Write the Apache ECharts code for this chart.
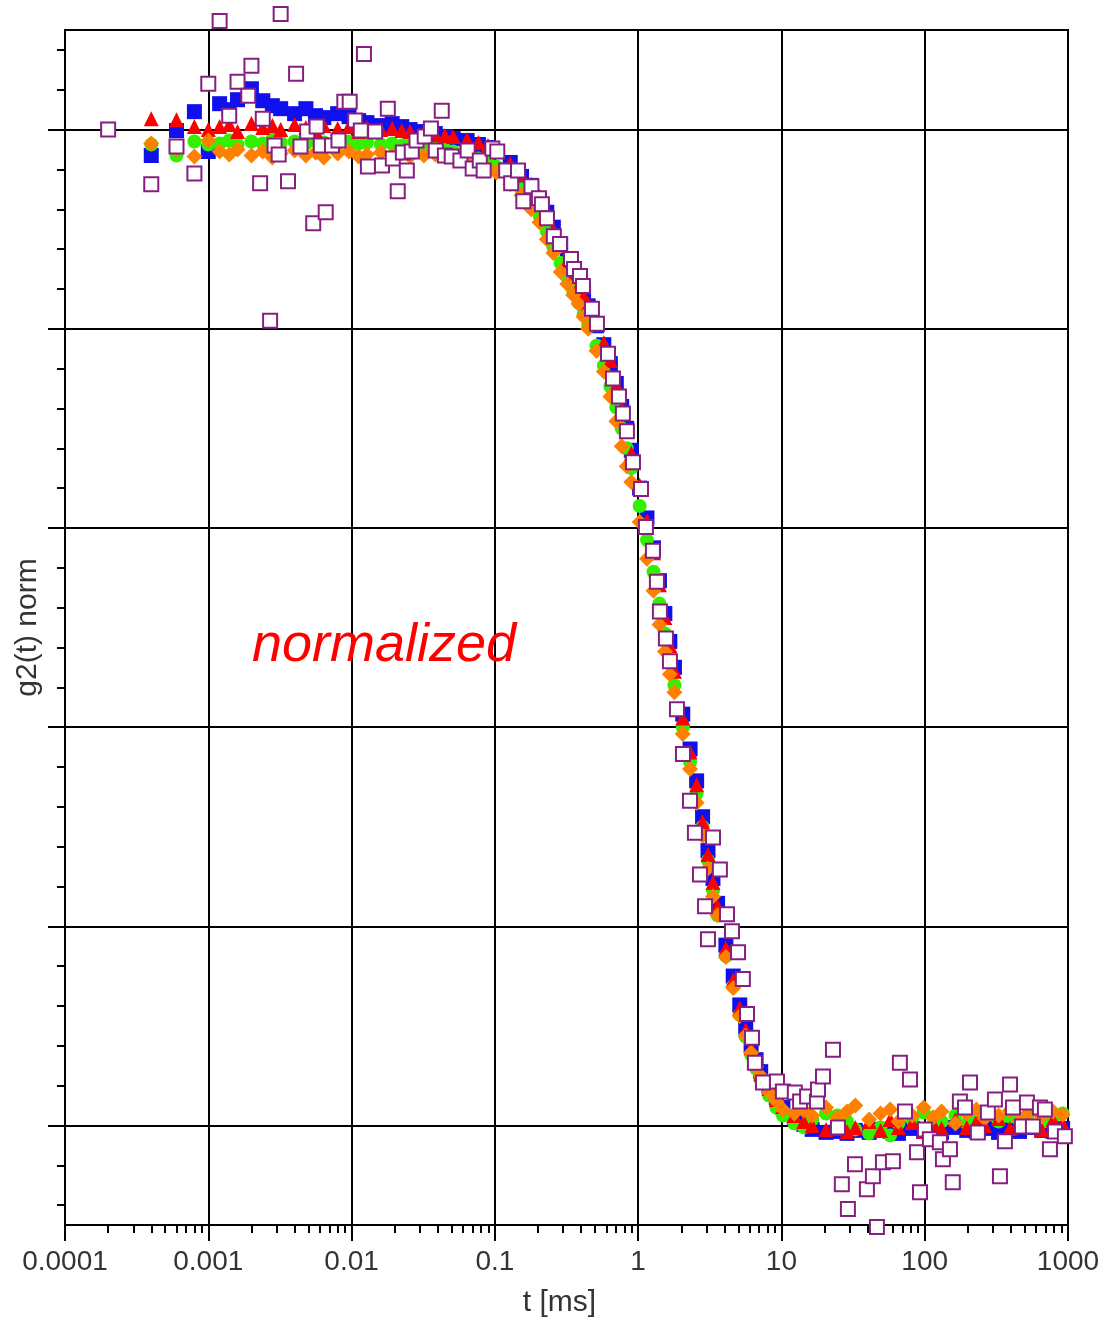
<!DOCTYPE html>
<html>
<head>
<meta charset="utf-8">
<script src="https://cdn.jsdelivr.net/npm/echarts@6/dist/echarts.min.js"></script>
<style>
html,body{margin:0;padding:0;background:#fff;}
#chart{width:1109px;height:1324px;}
</style>
</head>
<body>
<div id="chart"></div>
<script>
// ---- data (t in ms, g2(t) normalized) ----
const lagTimes = [
  0.0004, 0.0006, 0.0008, 0.001, 0.0012, 0.0014, 0.0016, 0.002, 0.0024, 0.0028,
  0.0032, 0.004, 0.0048, 0.0056, 0.0064, 0.008, 0.0096, 0.0112, 0.0128, 0.016,
  0.0192, 0.0224, 0.0256, 0.032, 0.0384, 0.0448, 0.0512, 0.064, 0.0768, 0.0896,
  0.1024, 0.128, 0.1536, 0.1792, 0.2048,
  0.2304, 0.256, 0.288, 0.32, 0.352, 0.384, 0.416, 0.448, 0.512, 0.576,
  0.64, 0.704, 0.768, 0.832, 0.896, 1.024, 1.152, 1.28, 1.408, 1.536,
  1.664, 1.792, 2.048, 2.304, 2.56, 2.816, 3.072, 3.328, 3.584, 4.096,
  4.608, 5.12, 5.632, 6.144, 6.656, 7.168, 8.192, 9.216, 10.24,
  12.288, 14.336, 16.384, 20.48, 24.576, 28.672, 32.768, 40.96, 49.152, 57.344,
  65.536, 81.92, 98.304, 114.688, 131.072, 163.84, 196.608, 229.376, 262.144, 327.68,
  393.216, 458.752, 524.288, 655.36, 786.432, 917.504
];
const blueValues = [
  0.974, 0.999, 1.018, 0.978, 1.026, 1.020, 1.030, 1.041, 1.029, 1.024,
  1.021, 1.016, 1.021, 1.014, 1.012, 1.016, 1.013, 1.009, 1.007, 1.004,
  1.006, 1.003, 1.000, 0.998, 0.996, 0.993, 0.991, 0.989, 0.985, 0.982,
  0.978, 0.967, 0.953, 0.944, 0.930,
  0.917, 0.902, 0.885, 0.869, 0.856, 0.846, 0.835, 0.823, 0.803, 0.784,
  0.765, 0.745, 0.722, 0.700, 0.678, 0.640, 0.610, 0.580, 0.547, 0.514,
  0.486, 0.460, 0.413, 0.378, 0.346, 0.310, 0.276, 0.248, 0.223, 0.181,
  0.150, 0.121, 0.099, 0.080, 0.066, 0.054, 0.039, 0.028, 0.018,
  0.008, 0.001, -0.004, -0.007, -0.006, -0.008, -0.005, -0.007, -0.004, -0.006,
  -0.008, -0.003, -0.006, -0.004, -0.007, -0.002, -0.005, -0.006, -0.003, -0.007,
  -0.004, -0.006, -0.002, -0.005, -0.006, -0.003
];
const greenValues = [
  0.985, 0.974, 0.988, 0.985, 0.986, 0.989, 0.985, 0.988, 0.986, 0.990,
  0.987, 0.988, 0.986, 0.989, 0.987, 0.985, 0.988, 0.986, 0.987, 0.985,
  0.986, 0.984, 0.985, 0.983, 0.982, 0.980, 0.978, 0.975, 0.971, 0.967,
  0.963, 0.952, 0.940, 0.928, 0.914,
  0.898, 0.882, 0.866, 0.852, 0.838, 0.826, 0.814, 0.803, 0.783, 0.763,
  0.742, 0.721, 0.700, 0.680, 0.660, 0.622, 0.588, 0.556, 0.524, 0.494,
  0.466, 0.442, 0.400, 0.365, 0.333, 0.300, 0.266, 0.236, 0.211, 0.170,
  0.140, 0.111, 0.089, 0.071, 0.057, 0.046, 0.030, 0.018, 0.010,
  0.002, -0.002, 0.006, 0.012, 0.010, 0.004, -0.004, -0.008, -0.002, -0.010,
  0.002, 0.006, 0.013, 0.008, 0.004, 0.010, 0.002, 0.007, 0.012, 0.004,
  0.009, 0.005, 0.010, 0.003, 0.008, 0.012
];
const redValues = [
  1.011, 1.010, 1.003, 1.000, 1.003, 1.005, 0.998, 1.006, 1.002, 1.004,
  1.000, 1.005, 1.002, 0.999, 1.004, 1.001, 1.003, 0.998, 1.002, 1.000,
  1.001, 0.999, 0.998, 0.997, 0.995, 0.994, 0.993, 0.990, 0.987, 0.984,
  0.980, 0.966, 0.955, 0.945, 0.933,
  0.916, 0.900, 0.884, 0.868, 0.855, 0.843, 0.833, 0.825, 0.806, 0.786,
  0.768, 0.744, 0.720, 0.698, 0.675, 0.643, 0.607, 0.575, 0.543, 0.510,
  0.482, 0.456, 0.409, 0.375, 0.342, 0.305, 0.272, 0.244, 0.220, 0.178,
  0.146, 0.118, 0.096, 0.078, 0.064, 0.052, 0.037, 0.026, 0.019,
  0.010, 0.004, 0.000, -0.004, -0.003, -0.006, -0.002, 0.004, -0.005, 0.006,
  -0.002, 0.003, -0.006, 0.002, -0.003, 0.006, -0.002, 0.004, 0.000, 0.007,
  -0.003, 0.005, 0.001, -0.004, 0.006, 0.002
];
const orangeValues = [
  0.986, 0.980, 0.973, 0.989, 0.978, 0.975, 0.980, 0.974, 0.978, 0.972,
  0.976, 0.979, 0.974, 0.977, 0.972, 0.976, 0.978, 0.973, 0.975, 0.977,
  0.974, 0.976, 0.973, 0.974, 0.975, 0.973, 0.972, 0.968, 0.964, 0.961,
  0.957, 0.945, 0.934, 0.920, 0.907,
  0.890, 0.876, 0.857, 0.845, 0.834, 0.825, 0.812, 0.800, 0.778, 0.757,
  0.732, 0.707, 0.682, 0.662, 0.646, 0.606, 0.569, 0.537, 0.503, 0.476,
  0.453, 0.435, 0.393, 0.358, 0.324, 0.291, 0.258, 0.230, 0.211, 0.169,
  0.138, 0.110, 0.090, 0.073, 0.059, 0.050, 0.033, 0.024, 0.016,
  0.012, 0.015, 0.010, 0.018, 0.008, 0.014, 0.020, 0.006, 0.012, 0.016,
  0.004, 0.010, 0.018, 0.008, 0.014, 0.002, 0.012, 0.016, 0.007, 0.010,
  0.015, 0.005, 0.012, 0.009, 0.014, 0.011
];
const purpleTimes = [
  0.0002, 0.0004, 0.0006, 0.0008, 0.001, 0.0012, 0.0014, 0.0016, 0.0019, 0.0020,
  0.0023, 0.0024, 0.0027, 0.0029, 0.0031, 0.0032, 0.0036, 0.0041, 0.0044, 0.0049,
  0.0054, 0.0057, 0.0061, 0.0066, 0.0073, 0.0081, 0.0089, 0.0097, 0.0106, 0.0116,
  0.0122, 0.0130, 0.0146, 0.0163, 0.0179, 0.0194, 0.0210, 0.0228, 0.0243, 0.0263,
  0.0284, 0.0324, 0.0358, 0.0387, 0.0426, 0.0448, 0.0500, 0.0575, 0.0646, 0.0700,
  0.0785, 0.0835, 0.096, 0.104, 0.120, 0.130, 0.145, 0.158, 0.180, 0.203,
  0.213, 0.231, 0.258, 0.285, 0.340, 0.357, 0.393, 0.412, 0.476, 0.516,
  0.616, 0.667, 0.735, 0.783, 0.835, 0.920, 1.047, 1.133, 1.268, 1.352,
  1.419, 1.563, 1.667, 1.866, 2.055, 2.30, 2.49, 2.70, 2.93, 3.07,
  3.33, 3.72, 4.17, 4.52, 4.98, 5.38, 5.75, 6.23, 6.53, 7.43,
  9.31, 10.24, 12.4, 13.5, 15.1, 17.7, 18.0, 19.5, 22.9, 24.8,
  26.4, 29.1, 32.6, 39.5, 43.5, 46.4, 51.1, 60.0, 67.1, 72.8,
  78.9, 88.3, 92.7, 100.3, 108.7, 127.6, 134, 150, 157, 176,
  191, 207, 235, 276, 309, 335, 363, 394, 413, 477,
  517, 569, 637, 690, 748, 811, 951
];
const purpleValues = [
  1.000, 0.945, 0.983, 0.956, 1.046, 1.109, 1.014, 1.048, 1.034, 1.064,
  0.946, 1.011, 0.808, 0.984, 0.975, 1.116, 0.948, 1.056, 0.983, 0.998,
  0.906, 1.003, 0.984, 0.917, 0.984, 0.989, 1.028, 1.028, 1.009, 0.999,
  1.076, 0.963, 0.998, 0.964, 1.021, 0.971, 0.938, 0.977, 0.959, 0.978,
  0.989, 0.993, 1.001, 0.979, 1.019, 0.974, 0.973, 0.969, 0.979, 0.961,
  0.969, 0.959, 0.981, 0.978, 0.959, 0.946, 0.959, 0.928, 0.943, 0.931,
  0.925, 0.911, 0.893, 0.885, 0.870, 0.860, 0.853, 0.843, 0.820, 0.805,
  0.775, 0.750, 0.732, 0.715, 0.697, 0.666, 0.639, 0.601, 0.577, 0.546,
  0.516, 0.489, 0.466, 0.418, 0.373, 0.326, 0.294, 0.252, 0.220, 0.187,
  0.289, 0.257, 0.212, 0.195, 0.174, 0.147, 0.112, 0.088, 0.063, 0.043,
  0.044, 0.034, 0.033, 0.024, 0.029, 0.024, 0.036, 0.049, 0.076, -0.002,
  -0.059, -0.084, -0.039, -0.064, -0.051, -0.102, -0.037, -0.036, 0.063, 0.014,
  0.046, -0.027, -0.067, -0.004, -0.014, -0.017, -0.034, -0.024, -0.057, 0.024,
  0.018, 0.043, -0.007, 0.013, 0.026, -0.051, -0.016, 0.041, 0.018, -0.001,
  0.023, -0.001, 0.018, 0.016, -0.024, -0.006, -0.011
];
const xTickLabels = ['0.0001', '0.001', '0.01', '0.1', '1', '10', '100', '1000'];
const yRange = [-0.1, 1.1];
// hidden tick labels of the y grid (every 0.02 from -0.1 to 1.1)
const yGridLabels = [];
for (let i = 0; i <= 60; i++) yGridLabels.push((yRange[0] + 0.02 * i).toFixed(2));

const pairs = (xs, ys) => xs.map((x, i) => [x, ys[i]]);

const labelFont = "'Liberation Sans', Arial, sans-serif";

const chart = echarts.init(document.getElementById('chart'), null, {renderer: 'canvas'});
const isMajor = (i) => (i - 5) % 10 === 0;
const isMinor = (i) => i % 2 === 1;

chart.setOption({
  animation: false,
  backgroundColor: '#fff',
  grid: {left: 65, right: 41, top: 30, bottom: 99, show: true, borderColor: '#000', borderWidth: 2, backgroundColor: 'transparent'},
  xAxis: [{
    type: 'log', logBase: 10, min: 0.0001, max: 1000,
    axisLine: {show: true, onZero: false, lineStyle: {color: '#000', width: 2}},
    axisTick: {show: true, length: 16, lineStyle: {color: '#000', width: 2}},
    minorTick: {show: true, splitNumber: 9, length: 8, lineStyle: {color: '#000', width: 2}},
    splitLine: {show: true, lineStyle: {color: '#000', width: 2}},
    axisLabel: {
      show: true, margin: 23, fontSize: 28, fontFamily: labelFont, color: '#333',
      formatter: (v) => xTickLabels[Math.round(Math.log10(v)) + 4]
    },
    name: 't [ms]', nameLocation: 'middle', nameGap: 63,
    nameTextStyle: {fontSize: 30, fontFamily: labelFont, color: '#333', padding: [0, 14, 0, 0]}
  }],
  yAxis: [
    {type: 'value', min: yRange[0], max: yRange[1], show: false},
    {
      type: 'category', data: yGridLabels, boundaryGap: false, position: 'left',
      axisLine: {show: true, lineStyle: {color: '#000', width: 2}},
      axisTick: {show: true, length: 17, interval: (i) => isMajor(i), lineStyle: {color: '#000', width: 2}},
      splitLine: {show: true, interval: (i) => isMajor(i), lineStyle: {color: '#000', width: 2}},
      axisLabel: {show: false},
      name: 'g2(t) norm', nameLocation: 'middle', nameRotate: 90, nameGap: 22,
      nameTextStyle: {fontSize: 30, fontFamily: labelFont, color: '#333'}
    },
    {
      type: 'category', data: yGridLabels, boundaryGap: false, position: 'left',
      axisLine: {show: false},
      axisTick: {show: true, length: 8, interval: (i) => isMinor(i), lineStyle: {color: '#000', width: 2}},
      splitLine: {show: false},
      axisLabel: {show: false}
    }
  ],
  graphic: [{
    type: 'text', left: 252, top: 619, z: 100,
    style: {text: 'normalized', fill: '#ff0000', font: "italic 54px 'Liberation Sans', Arial, sans-serif"}
  }],
  series: [
    {type: 'scatter', name: 'blue', yAxisIndex: 0, data: pairs(lagTimes, blueValues), symbol: 'rect', symbolSize: 15,
      itemStyle: {color: '#1010ee', opacity: 1}, clip: false, z: 3},
    {type: 'scatter', name: 'green', yAxisIndex: 0, data: pairs(lagTimes, greenValues), symbol: 'circle', symbolSize: 14,
      itemStyle: {color: '#33f000', opacity: 1}, clip: false, z: 4},
    {type: 'scatter', name: 'red', yAxisIndex: 0, data: pairs(lagTimes, redValues), symbol: 'triangle', symbolSize: 15,
      itemStyle: {color: '#ff0000', opacity: 1}, clip: false, z: 5},
    {type: 'scatter', name: 'orange', yAxisIndex: 0, data: pairs(lagTimes, orangeValues), symbol: 'diamond', symbolSize: 16,
      itemStyle: {color: '#ff8000', opacity: 1}, clip: false, z: 6},
    {type: 'scatter', name: 'purple', yAxisIndex: 0, data: pairs(purpleTimes, purpleValues), symbol: 'rect', symbolSize: 14,
      itemStyle: {color: '#ffffff', borderColor: '#861f80', borderWidth: 2, opacity: 1}, clip: false, z: 7}
  ]
});
</script>
</body>
</html>
